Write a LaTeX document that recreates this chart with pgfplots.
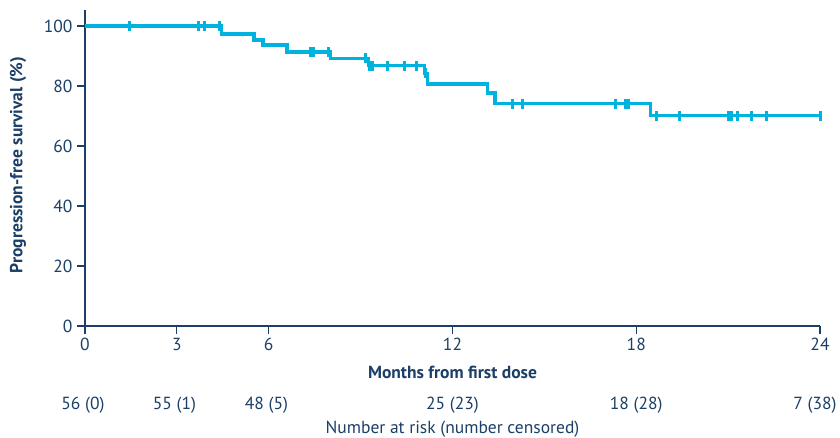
\documentclass[border=0pt]{standalone}
\usepackage{fontspec}
\setmainfont{PT Sans}
\usepackage{pgfplots}
\pgfplotsset{compat=1.18}
\definecolor{navy}{HTML}{1B3F66}
\definecolor{kmcyan}{HTML}{00B2DE}
\begin{document}
\begin{tikzpicture}[x=1pt,y=1pt]
\path[use as bounding box] (-85,-111) rectangle (755,326);
\begin{axis}[
  at={(0,0)}, anchor=south west,
  scale only axis, width=735pt, height=316pt,
  xmin=0, xmax=24, ymin=0, ymax=105.33,
  axis x line*=bottom, axis y line*=left,
  axis line style={navy, line width=1.3pt, -},
  xtick={0,3,6,12,18,24}, ytick={0,20,40,60,80,100},
  tick style={navy, line width=1.2pt},
  major tick length=8pt,
  xtick align=outside, ytick align=outside,
  tick label style={font=\fontsize{17.5}{20}\selectfont, text=navy},
  /pgf/number format/assume math mode=true,
  yticklabel style={xshift=-1pt},
  xticklabel style={yshift=-1pt},
  clip=false,
]
\addplot[const plot, kmcyan, line width=3.5pt, line join=miter] coordinates {
(0,100) (4.46,100) (4.46,97.4) (5.52,97.4) (5.52,95.3) (5.81,95.3) (5.81,93.7)
(6.6,93.7) (6.6,91.4) (8.02,91.4) (8.02,89.2) (9.25,89.2) (9.25,86.8)
(11.08,86.8) (11.08,84.2) (11.19,84.2) (11.19,80.6) (13.15,80.6) (13.15,77.6)
(13.38,77.6) (13.38,74.1) (18.47,74.1) (18.47,70.1) (24.0,70.1)
};
\addplot[only marks, kmcyan, mark=|, mark size=5pt, mark options={line width=3pt}] coordinates {
(1.44,100) (3.72,100) (3.89,100) (4.40,100)
(7.36,91.4) (7.46,91.4) (7.95,91.4)
(9.15,89.2) (9.30,86.8) (9.40,86.8) (9.87,86.8) (10.42,86.8) (10.81,86.8)
(11.12,84.2)
(13.96,74.1) (14.29,74.1) (17.31,74.1) (17.64,74.1) (17.74,74.1)
(18.66,70.1) (19.40,70.1) (21.01,70.1) (21.11,70.1) (21.30,70.1)
(21.77,70.1) (22.24,70.1) (24.0,70.1)
};
\end{axis}
\begin{scope}[every node/.style={text=navy, font=\fontsize{17.5}{20}\selectfont}]
\node at (367.5,-46) {\bfseries Months from first dose};
\node[rotate=90] at (-67,161) {\bfseries Progression-free survival (\%)};
\node at (-2,-79) {56 (0)};
\node at (89.5,-79) {55 (1)};
\node at (181.5,-79) {48 (5)};
\node at (367.5,-79) {25 (23)};
\node at (551.25,-79) {18 (28)};
\node[anchor=east] at (755,-79) {7 (38)};
\node at (367.5,-103.5) {Number at risk (number censored)};
\end{scope}
\end{tikzpicture}
\end{document}
